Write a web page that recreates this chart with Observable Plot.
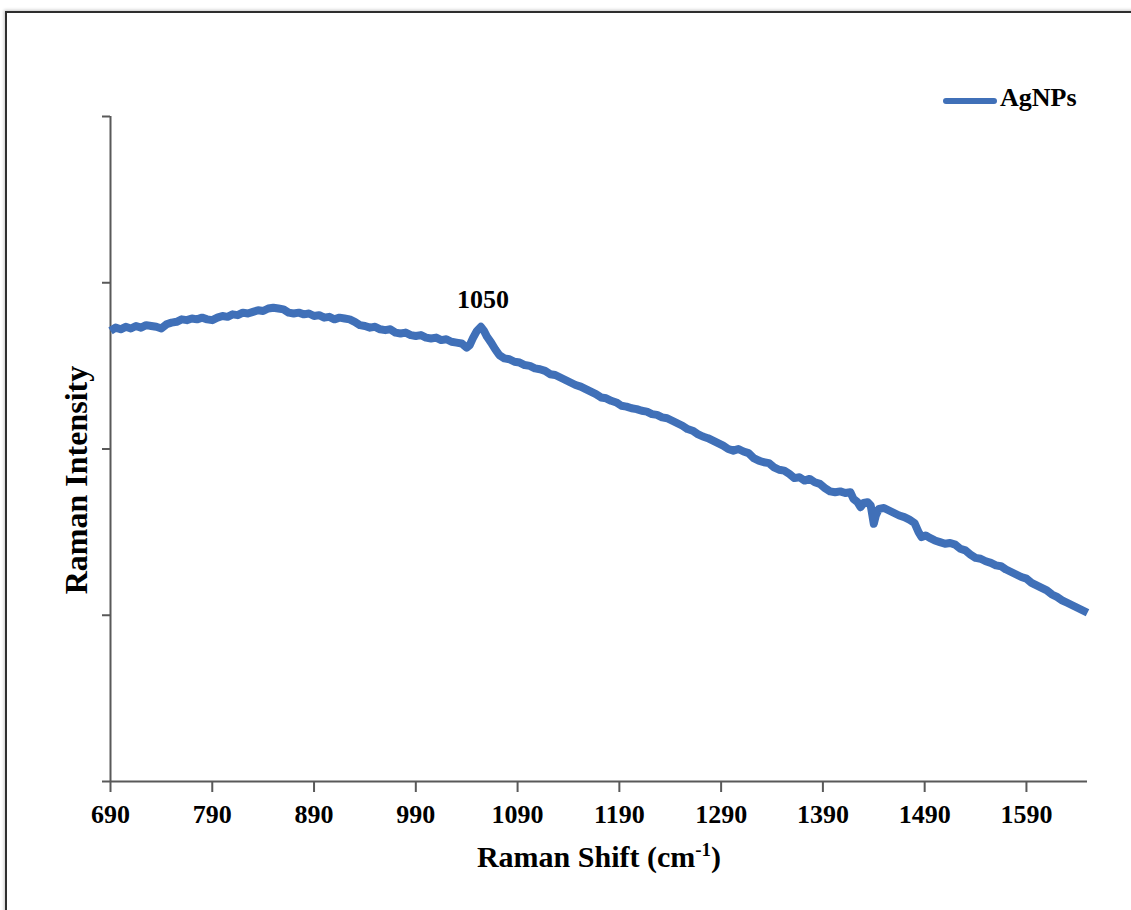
<!DOCTYPE html>
<html>
<head>
<meta charset="utf-8">
<script src="https://cdn.jsdelivr.net/npm/d3@7"></script>
<script src="https://cdn.jsdelivr.net/npm/@observablehq/plot@0.6"></script>
<style>
  body { margin: 0; background: #fff; }
  #wrap { position: relative; width: 1131px; height: 910px; overflow: hidden; background: #fff; }
  #chart { position: absolute; left: 0; top: 0; }
  #frame { position: absolute; left: 5px; top: 11px; width: 1300px; height: 1100px;
           border-left: 2px solid #2e2e2e; border-top: 2px solid #2e2e2e;
           box-shadow: -1px -1px 3px #c8c8c8; pointer-events: none; }
  #legendSwatch { position: absolute; left: 943px; top: 98px; width: 54px; height: 6px;
                  border-radius: 3px; }
  #legendText { position: absolute; left: 1000px; top: 85px; line-height: 26px;
                font-family: "Liberation Serif", serif; font-weight: bold; font-size: 26px; color: #000; }
</style>
</head>
<body>
<div id="wrap">
  <div id="chart"></div>
  <div id="frame"></div>
  <div id="legendSwatch"></div>
  <div id="legendText"></div>
</div>
<script>
// ---- data (Raman shift in cm^-1, intensity in arbitrary units) ----
const ramanShift = [
  690,695,700,705,710,715,720,725,730,735,740,745,750,755,760,765,770,775,780,785,
  790,795,800,805,810,815,820,825,830,835,840,845,850,855,860,865,870,875,880,885,
  890,895,900,905,910,915,920,925,930,935,940,945,950,955,960,965,970,975,980,985,
  990,995,1000,1005,1010,1015,1020,1025,1030,1035,1040,1043,1046,1050,1054,1057,1060,1064,1068,1072,
  1077,1082,1087,1092,1097,1102,1107,1112,1117,1122,1127,1132,1137,1142,1147,1152,1157,1162,1167,1172,
  1177,1182,1187,1192,1197,1202,1207,1212,1217,1222,1227,1232,1237,1242,1247,1252,1257,1262,1267,1272,
  1277,1282,1287,1292,1297,1302,1307,1312,1317,1322,1327,1332,1337,1342,1347,1352,1357,1362,1367,1372,
  1377,1382,1387,1392,1397,1402,1407,1412,1417,1420,1424,1427,1430,1434,1437,1440,1442,1445,1450,1455,
  1460,1465,1470,1475,1480,1484,1487,1491,1495,1500,1505,1510,1515,1520,1525,1530,1535,1540,1545,1550,
  1555,1560,1565,1570,1575,1580,1585,1590,1595,1600,1605,1610,1615,1620,1625,1630,1635,1640,1645,1650
];
const intensity = [
  2.71,2.73,2.72,2.735,2.725,2.74,2.73,2.745,2.74,2.735,2.725,2.75,2.76,2.765,2.78,2.775,2.785,2.78,2.79,2.78,
  2.775,2.79,2.80,2.795,2.81,2.805,2.82,2.815,2.825,2.835,2.83,2.845,2.85,2.845,2.84,2.82,2.815,2.82,2.81,2.815,
  2.80,2.805,2.79,2.795,2.78,2.79,2.785,2.78,2.765,2.745,2.74,2.73,2.735,2.72,2.715,2.72,2.70,2.695,2.70,2.685,
  2.68,2.685,2.67,2.665,2.67,2.655,2.66,2.645,2.64,2.635,2.61,2.625,2.665,2.71,2.735,2.71,2.675,2.64,2.60,2.565,
  2.545,2.54,2.525,2.52,2.505,2.50,2.485,2.48,2.47,2.45,2.445,2.43,2.415,2.40,2.385,2.375,2.36,2.345,2.33,2.31,
  2.305,2.29,2.28,2.26,2.255,2.245,2.24,2.23,2.225,2.21,2.205,2.19,2.185,2.17,2.155,2.14,2.12,2.11,2.09,2.075,
  2.065,2.05,2.035,2.02,2.00,1.99,2.00,1.985,1.975,1.945,1.93,1.92,1.915,1.89,1.875,1.87,1.85,1.825,1.83,1.81,
  1.82,1.80,1.79,1.765,1.745,1.74,1.745,1.735,1.74,1.70,1.68,1.65,1.675,1.68,1.66,1.55,1.60,1.64,1.645,1.63,
  1.615,1.60,1.59,1.575,1.555,1.50,1.47,1.48,1.465,1.45,1.44,1.43,1.435,1.425,1.40,1.39,1.365,1.345,1.34,1.325,
  1.315,1.30,1.295,1.275,1.26,1.245,1.23,1.22,1.195,1.18,1.165,1.15,1.125,1.11,1.09,1.075,1.06,1.045,1.03,1.015
];
const xTicks = [690, 790, 890, 990, 1090, 1190, 1290, 1390, 1490, 1590];
const yTicks = [0, 1, 2, 3, 4];
const xDomain = [690, 1650];
const yDomain = [0, 4];
const seriesName = "AgNPs";
const peakLabel = "1050";
const xTitle = "Raman Shift (cm-1)";
const yTitle = "Raman Intensity";

const lineColor = "#4070b8";
const axisColor = "#595959";
const serif = "Liberation Serif, Times New Roman, serif";

const spectrum = ramanShift.map((x, i) => ({x, y: intensity[i]}));
const peak = spectrum.filter(d => d.x > 1030 && d.x < 1080).reduce((a, b) => (b.y > a.y ? b : a));

const chart = Plot.plot({
  width: 1131,
  height: 910,
  marginLeft: 110,
  marginRight: 44,
  marginTop: 116,
  marginBottom: 129,
  style: {fontFamily: serif, fontWeight: "bold", fontSize: "26px", color: "#000", background: "transparent", overflow: "visible"},
  x: {domain: xDomain},
  y: {domain: yDomain},
  marks: [
    Plot.ruleX([xDomain[0]], {y1: yDomain[0], y2: yDomain[1], stroke: axisColor, strokeWidth: 2}),
    Plot.ruleY([yDomain[0]], {x1: xDomain[0], x2: xDomain[1], stroke: axisColor, strokeWidth: 2}),
    Plot.axisX({ticks: xTicks, tickSize: 11, tickPadding: 12, stroke: axisColor, strokeWidth: 2, fill: "#000",
                label: null, tickFormat: d => String(d), fontSize: 26}),
    Plot.axisY({ticks: yTicks, tickSize: 8, stroke: axisColor, strokeWidth: 2, label: null, tickFormat: () => ""}),
    Plot.line(spectrum, {x: "x", y: "y", stroke: lineColor, strokeWidth: 8,
                         strokeLinejoin: "round", strokeLinecap: "butt"}),
    Plot.text([peak], {x: "x", y: "y", text: () => peakLabel, dx: 2, dy: -27, fontSize: 26,
                       fontWeight: "bold", fill: "#000"}),
    Plot.text([xTitle], {text: d => d, frameAnchor: "bottom", dy: 85, fontSize: 30, fontWeight: "bold", fill: "#000"}),
    Plot.text([yTitle], {text: d => d, frameAnchor: "left", textAnchor: "middle", rotate: -90, dx: -34, dy: 31,
                         fontSize: 32, fontWeight: "bold", fill: "#000"})
  ]
});

// superscript for the unit in the x title
const ns = "http://www.w3.org/2000/svg";
chart.querySelectorAll("text").forEach(t => {
  if (t.textContent === xTitle) {
    t.textContent = "";
    const a = document.createElementNS(ns, "tspan"); a.textContent = "Raman Shift (cm";
    const b = document.createElementNS(ns, "tspan"); b.textContent = "-1";
    b.setAttribute("font-size", "19"); b.setAttribute("dy", "-11");
    const c = document.createElementNS(ns, "tspan"); c.textContent = ")"; c.setAttribute("dy", "11");
    t.append(a, b, c);
  }
});

document.getElementById("chart").appendChild(chart);
document.getElementById("legendSwatch").style.background = lineColor;
document.getElementById("legendText").textContent = seriesName;
</script>
</body>
</html>
